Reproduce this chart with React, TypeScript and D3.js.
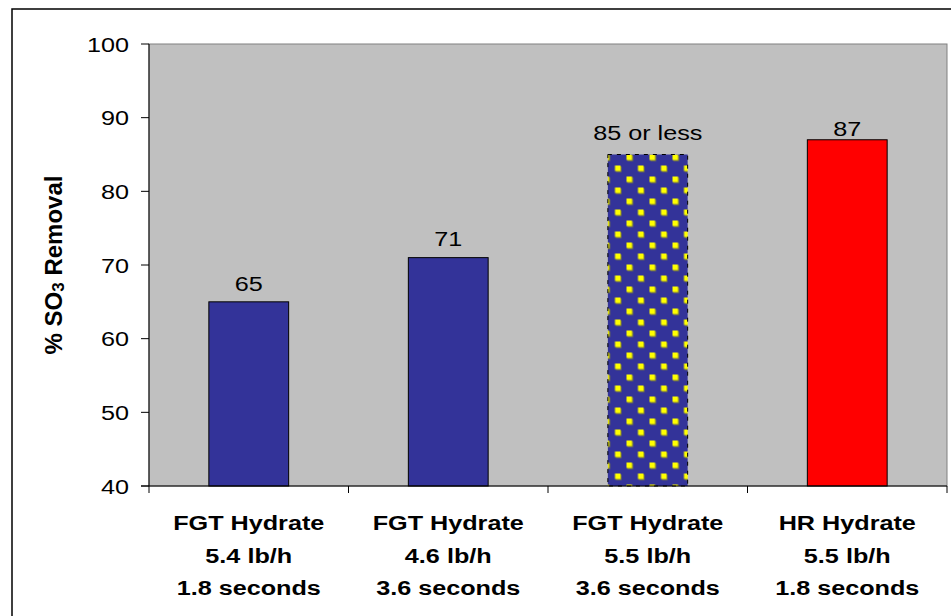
import React from 'react';
import * as d3 from 'd3';

const categories = ['c1', 'c2', 'c3', 'c4'];
const labelLine1 = ['FGT Hydrate', 'FGT Hydrate', 'FGT Hydrate', 'HR Hydrate'];
const labelLine2 = ['5.4 lb/h', '4.6 lb/h', '5.5 lb/h', '5.5 lb/h'];
const labelLine3 = ['1.8 seconds', '3.6 seconds', '3.6 seconds', '1.8 seconds'];
const values = [65, 71, 85, 87];
const valueLabels = ['65', '71', '85 or less', '87'];
const yTicks = [40, 50, 60, 70, 80, 90, 100];

const W = 951;
const H = 616;
const left = 149;
const right = 947;
const top = 44;
const bottom = 486;
const FONT = "'Liberation Sans', Arial, sans-serif";
const SX = 1.2;

export default function App() {
  const x = d3.scaleBand<string>().domain(categories).range([left, right]).paddingInner(0.6).paddingOuter(0.3);
  const y = d3.scaleLinear().domain([40, 100]).range([bottom, top]);
  const step = x.step();
  const boundaries = d3.range(categories.length + 1).map((i) => left + i * step);
  const fills = ['#333399', '#333399', 'url(#dots)', '#FF0000'];
  const labelGap = [11, 12, 15, 4];

  return (
    <svg width={W} height={H} style={{ position: 'absolute', left: 0, top: 0, background: '#fff' }}>
      <defs>
        <pattern id="dots" patternUnits="userSpaceOnUse" x={603.5} y={154.5} width={23} height={22}>
          <rect x={0} y={0} width={23} height={22} fill="#333399" />
          <rect x={1} y={1} width={5.5} height={5.5} fill="#8a8a2a" />
          <rect x={0} y={0} width={5.5} height={5.5} fill="#FFFF00" />
          <rect x={12.5} y={12} width={5.5} height={5.5} fill="#8a8a2a" />
          <rect x={11.5} y={11} width={5.5} height={5.5} fill="#FFFF00" />
        </pattern>
      </defs>
      <rect x={12} y={9} width={W + 20} height={H + 20} fill="#fff" stroke="#000" strokeWidth={1.5} />
      <rect x={left} y={top} width={right - left} height={bottom - top} fill="#C0C0C0" stroke="#808080" strokeWidth={1} />
      {values.map((v, i) => (
        <g key={i}>
          <rect
            x={x(categories[i])}
            y={y(v)}
            width={x.bandwidth()}
            height={bottom - y(v)}
            fill={fills[i]}
            stroke="#000"
            strokeWidth={1}
            strokeDasharray={i === 2 ? '4 5' : undefined}
          />
          <g transform={`translate(${(x(categories[i]) as number) + x.bandwidth() / 2},${y(v) - labelGap[i]}) scale(${SX},1)`}>
            <text textAnchor="middle" fontFamily={FONT} fontSize={21} fill="#000">
              {valueLabels[i]}
            </text>
          </g>
        </g>
      ))}
      {/* y axis */}
      <line x1={left} x2={left} y1={top} y2={bottom} stroke="#000" strokeWidth={1} />
      {yTicks.map((t) => (
        <g key={t}>
          <line x1={left - 8} x2={left} y1={y(t)} y2={y(t)} stroke="#000" strokeWidth={1} />
          <g transform={`translate(${left - 20},${y(t)}) scale(${SX},1)`}>
            <text textAnchor="end" dy="0.36em" fontFamily={FONT} fontSize={21} fill="#000">
              {t}
            </text>
          </g>
        </g>
      ))}
      {/* x axis */}
      <line x1={left - 8} x2={right} y1={bottom} y2={bottom} stroke="#000" strokeWidth={1} />
      {boundaries.map((b, i) => (
        <line key={i} x1={b} x2={b} y1={bottom} y2={bottom + 7} stroke="#000" strokeWidth={1} />
      ))}
      {categories.map((c, i) => {
        const cx = (x(c) as number) + x.bandwidth() / 2;
        return (
          <g key={c} fontFamily={FONT} fontSize={21} fontWeight="bold" fill="#000">
            <g transform={`translate(${cx},530) scale(${SX},1)`}>
              <text textAnchor="middle">{labelLine1[i]}</text>
            </g>
            <g transform={`translate(${cx},563) scale(${SX},1)`}>
              <text textAnchor="middle">{labelLine2[i]}</text>
            </g>
            <g transform={`translate(${cx},595) scale(${SX},1)`}>
              <text textAnchor="middle">{labelLine3[i]}</text>
            </g>
          </g>
        );
      })}
      <text
        transform={`translate(62,${(top + bottom) / 2}) rotate(-90)`}
        textAnchor="middle"
        fontFamily={FONT}
        fontSize={24}
        fontWeight="bold"
        fill="#000"
      >
        % SO
        <tspan fontSize={17} dy={2}>3</tspan>
        <tspan dy={-2}> Removal</tspan>
      </text>
    </svg>
  );
}
